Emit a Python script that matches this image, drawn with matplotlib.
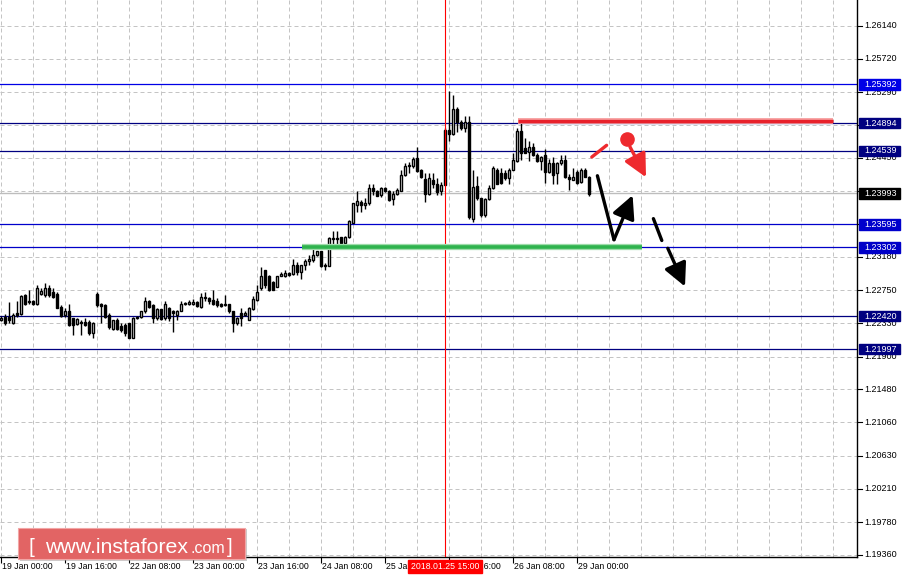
import matplotlib
matplotlib.use("Agg")
import matplotlib.pyplot as plt
from matplotlib.patches import Rectangle

# ---------------- data (H1 candles, bar index = trading hour from 19 Jan 00:00) -------------
opens = [
    1.2237, 1.2241, 1.2241, 1.2233, 1.2246, 1.2245, 1.2269, 1.2261, 1.2262, 1.2257,
    1.2270, 1.2269, 1.2278, 1.2273, 1.2270, 1.2254, 1.2243, 1.2248, 1.2239, 1.2232,
    1.2235, 1.2235, 1.2234, 1.2220, 1.2271, 1.2258, 1.2256, 1.2244, 1.2226, 1.2237,
    1.2229, 1.2231, 1.2233, 1.2214, 1.2239, 1.2241, 1.2248, 1.2262, 1.2256, 1.2239,
    1.2251, 1.2239, 1.2252, 1.2249, 1.2244, 1.2249, 1.2257, 1.2258, 1.2258, 1.2260,
    1.2254, 1.2267, 1.2265, 1.2263, 1.2262, 1.2258, 1.2256, 1.2257, 1.2248, 1.2233,
    1.2246, 1.2244, 1.2237, 1.2251, 1.2263, 1.2278, 1.2301, 1.2294, 1.2286, 1.2280,
    1.2294, 1.2293, 1.2297, 1.2296, 1.2307, 1.2298, 1.2307, 1.2313, 1.2314, 1.2320,
    1.2325, 1.2307, 1.2306, 1.2341, 1.2342, 1.2343, 1.2336, 1.2343, 1.2362, 1.2385,
    1.2388, 1.2384, 1.2387, 1.2406, 1.2403, 1.2397, 1.2406, 1.2403, 1.2392, 1.2398,
    1.2402, 1.2423, 1.2435, 1.2434, 1.2445, 1.2429, 1.2418, 1.2399, 1.2417, 1.2412,
    1.2403, 1.2410, 1.2481, 1.2476, 1.2508, 1.2491, 1.2483, 1.2491, 1.2367, 1.2409,
    1.2393, 1.2372, 1.2392, 1.2406, 1.2430, 1.2426, 1.2425, 1.2419, 1.2430, 1.2441,
    1.2479, 1.2457, 1.2452, 1.2459, 1.2448, 1.2441, 1.2448, 1.2427, 1.2438, 1.2425,
    1.2438, 1.2442, 1.2421, 1.2417, 1.2427, 1.2414, 1.2430, 1.2420]
highs = [
    1.2242, 1.2245, 1.2260, 1.2246, 1.2261, 1.2269, 1.2270, 1.2276, 1.2263, 1.2282,
    1.2278, 1.2285, 1.2282, 1.2278, 1.2273, 1.2256, 1.2253, 1.2258, 1.2240, 1.2240,
    1.2237, 1.2239, 1.2237, 1.2235, 1.2273, 1.2259, 1.2258, 1.2246, 1.2237, 1.2240,
    1.2233, 1.2233, 1.2233, 1.2241, 1.2242, 1.2249, 1.2266, 1.2263, 1.2258, 1.2252,
    1.2251, 1.2261, 1.2254, 1.2250, 1.2250, 1.2261, 1.2260, 1.2263, 1.2264, 1.2261,
    1.2272, 1.2273, 1.2267, 1.2276, 1.2265, 1.2259, 1.2269, 1.2258, 1.2249, 1.2241,
    1.2252, 1.2249, 1.2254, 1.2268, 1.2282, 1.2305, 1.2301, 1.2295, 1.2287, 1.2294,
    1.2299, 1.2301, 1.2299, 1.2315, 1.2312, 1.2308, 1.2315, 1.2320, 1.2329, 1.2325,
    1.2325, 1.2310, 1.2344, 1.2351, 1.2351, 1.2344, 1.2345, 1.2365, 1.2387, 1.2402,
    1.2391, 1.2393, 1.2411, 1.2411, 1.2404, 1.2408, 1.2408, 1.2404, 1.2403, 1.2406,
    1.2429, 1.2438, 1.2439, 1.2446, 1.2459, 1.2431, 1.2425, 1.2425, 1.2425, 1.2419,
    1.2414, 1.2483, 1.2530, 1.2526, 1.2510, 1.2494, 1.2498, 1.2498, 1.2429, 1.2422,
    1.2394, 1.2394, 1.2410, 1.2434, 1.2432, 1.2432, 1.2429, 1.2432, 1.2451, 1.2483,
    1.2489, 1.2470, 1.2466, 1.2464, 1.2451, 1.2447, 1.2456, 1.2443, 1.2446, 1.2440,
    1.2449, 1.2449, 1.2424, 1.2432, 1.2429, 1.2432, 1.2432, 1.2422]
lows = [
    1.2236, 1.2231, 1.2233, 1.2232, 1.2241, 1.2244, 1.2256, 1.2258, 1.2256, 1.2256,
    1.2269, 1.2267, 1.2267, 1.2265, 1.2253, 1.2241, 1.2241, 1.2229, 1.2218, 1.2231,
    1.2218, 1.2229, 1.2218, 1.2214, 1.2254, 1.2233, 1.2240, 1.2225, 1.2224, 1.2224,
    1.2222, 1.2216, 1.2214, 1.2214, 1.2238, 1.2240, 1.2246, 1.2252, 1.2233, 1.2237,
    1.2237, 1.2237, 1.2236, 1.2222, 1.2237, 1.2248, 1.2256, 1.2256, 1.2256, 1.2254,
    1.2253, 1.2262, 1.2258, 1.2256, 1.2254, 1.2254, 1.2255, 1.2246, 1.2222, 1.2231,
    1.2229, 1.2242, 1.2237, 1.2250, 1.2261, 1.2276, 1.2278, 1.2274, 1.2276, 1.2279,
    1.2293, 1.2292, 1.2294, 1.2295, 1.2295, 1.2290, 1.2301, 1.2307, 1.2312, 1.2319,
    1.2305, 1.2301, 1.2306, 1.2331, 1.2333, 1.2336, 1.2336, 1.2342, 1.2361, 1.2376,
    1.2375, 1.2379, 1.2385, 1.2397, 1.2396, 1.2395, 1.2401, 1.2389, 1.2385, 1.2397,
    1.2402, 1.2422, 1.2426, 1.2432, 1.2427, 1.2419, 1.2388, 1.2397, 1.2406, 1.2397,
    1.2397, 1.2410, 1.2466, 1.2474, 1.2478, 1.2481, 1.2478, 1.2367, 1.2363, 1.2391,
    1.2369, 1.2369, 1.2391, 1.2405, 1.2411, 1.2411, 1.2417, 1.2411, 1.2429, 1.2440,
    1.2442, 1.2451, 1.2441, 1.2447, 1.2440, 1.2429, 1.2413, 1.2425, 1.2411, 1.2412,
    1.2436, 1.2419, 1.2404, 1.2416, 1.2411, 1.2413, 1.2420, 1.2396]
closes = [
    1.2240, 1.2233, 1.2237, 1.2244, 1.2244, 1.2268, 1.2258, 1.2260, 1.2257, 1.2278,
    1.2274, 1.2278, 1.2269, 1.2267, 1.2253, 1.2242, 1.2248, 1.2231, 1.2231, 1.2238,
    1.2233, 1.2231, 1.2220, 1.2233, 1.2256, 1.2255, 1.2241, 1.2228, 1.2237, 1.2226,
    1.2224, 1.2220, 1.2214, 1.2239, 1.2241, 1.2248, 1.2262, 1.2254, 1.2239, 1.2251,
    1.2238, 1.2258, 1.2239, 1.2246, 1.2249, 1.2258, 1.2259, 1.2260, 1.2260, 1.2255,
    1.2267, 1.2265, 1.2261, 1.2257, 1.2256, 1.2255, 1.2258, 1.2248, 1.2233, 1.2240,
    1.2240, 1.2246, 1.2252, 1.2264, 1.2273, 1.2294, 1.2282, 1.2276, 1.2276, 1.2293,
    1.2296, 1.2297, 1.2295, 1.2307, 1.2298, 1.2307, 1.2313, 1.2315, 1.2320, 1.2325,
    1.2306, 1.2306, 1.2342, 1.2342, 1.2341, 1.2336, 1.2344, 1.2364, 1.2387, 1.2389,
    1.2384, 1.2387, 1.2406, 1.2402, 1.2396, 1.2406, 1.2403, 1.2391, 1.2398, 1.2404,
    1.2423, 1.2434, 1.2436, 1.2444, 1.2428, 1.2421, 1.2399, 1.2419, 1.2411, 1.2401,
    1.2410, 1.2481, 1.2476, 1.2508, 1.2491, 1.2483, 1.2491, 1.2369, 1.2408, 1.2393,
    1.2372, 1.2392, 1.2406, 1.2432, 1.2412, 1.2413, 1.2419, 1.2430, 1.2442, 1.2479,
    1.2451, 1.2451, 1.2459, 1.2448, 1.2441, 1.2446, 1.2427, 1.2438, 1.2423, 1.2438,
    1.2442, 1.2421, 1.2418, 1.2421, 1.2413, 1.2430, 1.2421, 1.2399]

time_labels = ['19 Jan 00:00', '19 Jan 16:00', '22 Jan 08:00', '23 Jan 00:00', '23 Jan 16:00',
               '24 Jan 08:00', '25 Jan 00:00', '25 Jan 16:00', '26 Jan 08:00', '29 Jan 00:00']
time_label_bars = [0, 16, 32, 48, 64, 80, 96, 112, 128, 144]

price_ticks = [1.26140, 1.25720, 1.25290, 1.24870, 1.24450, 1.24020, 1.23600, 1.23180,
               1.22750, 1.22330, 1.21900, 1.21480, 1.21060, 1.20630, 1.20210, 1.19780, 1.19360]

level_prices = [1.25392, 1.24894, 1.24539, 1.23595, 1.23302, 1.22420, 1.21997]
level_colors = ['#0000e6', '#000080', '#000080', '#0000cc', '#0000c8', '#000080', '#000080']
current_price = 1.23993

cursor_bar = 111
cursor_label = '2018.01.25 15:00'

# analyst drawings (bar index, price)
resist_bars = [129.25, 208.0]
resist_price = 1.2492
support_bars = [75.25, 160.25]
support_price = 1.2331
red_dash_bars = [147.7, 151.4]
red_dash_prices = [1.2446, 1.2461]
red_dot_bar, red_dot_price = 156.4, 1.2469
red_arrow_bars = [157.25, 161.25]
red_arrow_prices = [1.2459, 1.2420]
blk_line_bars = [149.1, 153.25]
blk_line_prices = [1.2422, 1.2340]
blk_arrow1_bars = [153.25, 157.9]
blk_arrow1_prices = [1.2340, 1.2397]
blk_dash_bars = [163.1, 165.2]
blk_dash_prices = [1.2367, 1.2339]
blk_arrow2_bars = [166.7, 171.0]
blk_arrow2_prices = [1.2329, 1.2280]

# ---------------- figure ----------------
plt.rcParams['font.family'] = ['Liberation Sans', 'DejaVu Sans']
W, H = 902, 579
fig = plt.figure(figsize=(W / 100, H / 100), dpi=100)
fig.patch.set_facecolor('white')

AX_R, AX_B = 857.0, 556.5
PX = 0.0001282            # price per pixel
YMAX = 1.26473
ax = fig.add_axes([0, 1 - AX_B / H, AX_R / W, AX_B / H])
ax.set_ylim(YMAX - PX * AX_B, YMAX)
ax.set_xlim(-0.25, (AX_R - 1) / 4)
ax.set_facecolor('white')

grid_kw = dict(color='#c4c4c4', lw=0.72, ls=(0, (4, 3)), zorder=1)
for p in price_ticks:
    ax.axhline(p, **grid_kw)
for b in range(0, 215, 8):
    ax.axvline(b, **grid_kw)

for p, c in zip(level_prices, level_colors):
    ax.axhline(p, color=c, lw=0.9, zorder=2)
ax.axhline(current_price, color='#bdbdbd', lw=1.0, zorder=2)

# candles
n = len(opens)
xs = list(range(n))
ax.vlines(xs, lows, highs, color='black', lw=1.0, zorder=3)
bottoms = [min(o, c) for o, c in zip(opens, closes)]
heights = [max(abs(c - o), 0.00005) for o, c in zip(opens, closes)]
fcs = ['white' if c >= o else 'black' for o, c in zip(opens, closes)]
ax.bar(xs, heights, bottom=bottoms, width=0.7, color=fcs, edgecolor='black',
       linewidth=1.0, zorder=4)

ax.axvline(cursor_bar, color='#ff0000', lw=0.8, zorder=5)

# analyst lines
ax.plot(resist_bars, [resist_price] * 2, color='#f7a0a0', lw=4.2, zorder=6, solid_capstyle='butt')
ax.plot(resist_bars, [resist_price] * 2, color='#e8212b', lw=2.4, zorder=6, solid_capstyle='butt')
ax.plot(support_bars, [support_price] * 2, color='#9fdcaa', lw=4.5, zorder=6, solid_capstyle='butt')
ax.plot(support_bars, [support_price] * 2, color='#2eb34d', lw=2.6, zorder=6, solid_capstyle='butt')

red = '#ee2a2e'
arrow_style = '-|>,head_length=1.0,head_width=0.5'
ax.plot(red_dash_bars, red_dash_prices, color=red, lw=2.4, zorder=7, solid_capstyle='round')
ax.plot([red_dot_bar], [red_dot_price], 'o', color=red, ms=9.5, zorder=7)
ax.annotate('', xy=(red_arrow_bars[1], red_arrow_prices[1]),
            xytext=(red_arrow_bars[0], red_arrow_prices[0]),
            arrowprops=dict(arrowstyle=arrow_style, color=red,
                            lw=2.4, mutation_scale=14, shrinkA=0, shrinkB=0), zorder=7)
ax.plot(blk_line_bars, blk_line_prices, color='black', lw=2.4, zorder=7, solid_capstyle='round')
ax.annotate('', xy=(blk_arrow1_bars[1], blk_arrow1_prices[1]),
            xytext=(blk_arrow1_bars[0], blk_arrow1_prices[0]),
            arrowprops=dict(arrowstyle=arrow_style, color='black',
                            lw=2.4, mutation_scale=14, shrinkA=0, shrinkB=0), zorder=7)
ax.plot(blk_dash_bars, blk_dash_prices, color='black', lw=2.4, zorder=7, solid_capstyle='round')
ax.annotate('', xy=(blk_arrow2_bars[1], blk_arrow2_prices[1]),
            xytext=(blk_arrow2_bars[0], blk_arrow2_prices[0]),
            arrowprops=dict(arrowstyle=arrow_style, color='black',
                            lw=2.4, mutation_scale=14, shrinkA=0, shrinkB=0), zorder=7)

# frame & x ticks
for s in ['top', 'left']:
    ax.spines[s].set_visible(False)
for s in ['right', 'bottom']:
    ax.spines[s].set_color('black')
    ax.spines[s].set_linewidth(1.0)
ax.set_yticks([])
ax.set_xticks(time_label_bars)
ax.set_xticklabels([])
ax.tick_params(axis='x', direction='out', length=4, width=0.8, color='black')

for b, lab in zip(time_label_bars, time_labels):
    ax.annotate(lab, xy=(b, 0), xycoords=('data', 'axes fraction'), xytext=(1, -10),
                textcoords='offset pixels', ha='left', va='center', fontsize=6.3, color='black',
                annotation_clip=False)
ax.annotate(cursor_label, xy=(cursor_bar, 0), xycoords=('data', 'axes fraction'), xytext=(0, -10),
            textcoords='offset pixels', ha='center', va='center', fontsize=6.3, color='white',
            annotation_clip=False,
            bbox=dict(boxstyle='square,pad=0.28', fc='#ff0000', ec='#ff0000'))

# right price scale
rax = fig.add_axes([AX_R / W, 1 - AX_B / H, (W - AX_R) / W, AX_B / H])
rax.set_ylim(ax.get_ylim())
rax.set_xlim(0, W - AX_R)
rax.axis('off')
box_prices = level_prices + [current_price]
for p in price_ticks:
    rax.plot([0, 5], [p, p], color='black', lw=0.8)
    # labels that sit (almost) exactly under a price box are invisible in the original
    if min(abs(p - q) for q in box_prices) > 0.0003:
        rax.text(7, p, f'{p:.5f}', ha='left', va='center', fontsize=6.5, color='black')
box_h = PX * 10.5
for p, c in zip(box_prices, level_colors + ['black']):
    rax.add_patch(Rectangle((2, p - box_h / 2), 41, box_h, fc=c, ec=c, zorder=5))
    rax.text(7, p, f'{p:.5f}', ha='left', va='center', fontsize=6.5, color='white', zorder=6)

# watermark
fig.patches.append(Rectangle((19.5 / W, 1 - 561 / H), 227.5 / W, 32.5 / H, transform=fig.transFigure,
                             fc='#9a9a9a', ec='none', alpha=0.5, zorder=8))
fig.patches.append(Rectangle((17.5 / W, 1 - 559 / H), 227.5 / W, 31 / H, transform=fig.transFigure,
                             fc='#e26464', ec='#f2a6a6', lw=0.8, zorder=9))
base = 1 - 553 / H
fig.text(29 / W, base, '[', fontsize=15, color='white', va='baseline', zorder=10)
fig.text(45 / W, base, 'www.instaforex', fontsize=15.3, color='white', va='baseline', zorder=10)
fig.text(190 / W, base, '.com', fontsize=11.5, color='white', va='baseline', zorder=10)
fig.text(227 / W, base, ']', fontsize=15, color='white', va='baseline', zorder=10)

fig.savefig('out.png', dpi=100, facecolor='white')
